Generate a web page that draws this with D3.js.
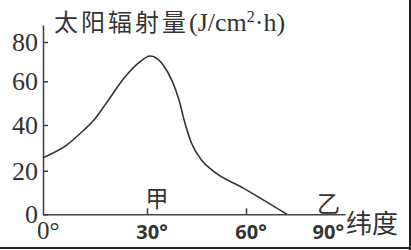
<!DOCTYPE html>
<html>
<head>
<meta charset="utf-8">
<script src="https://cdn.jsdelivr.net/npm/d3@7"></script>
<style>
  body { margin: 0; background: #fff; }
  svg { display: block; }
  .axis path, .axis line { stroke: #444; stroke-width: 1.6px; }
  .axis text { font-family: "Liberation Serif", serif; font-size: 26px; fill: #333; }
</style>
</head>
<body>
<div id="chart"></div>
<script>
// latitude (deg) and solar radiation (J/cm2·h)
const LATITUDE  = [0, 6.8, 11.8, 14.7, 17.9, 23.7, 27.5, 30.9, 34.9, 39.7, 41.5, 43.5, 46.5, 50, 59.2, 72.4];
const RADIATION = [25.7, 31.2, 37.8, 42.3, 49.2, 62.3, 69.2, 72.9, 68.3, 51.4, 40.9, 32, 24.7, 19.9, 12, 0];

const Y_TICKS  = [0, 20, 40, 60, 80];
const X_TICKS  = [30, 60];
const X_LABELS = [{ v: 0, t: '0°' }, { v: 30, t: '30°' }, { v: 60, t: '60°' }, { v: 90, t: '90°' }];
const MARKS    = [{ v: 33, t: '甲' }, { v: 85, t: '乙' }];

const WIDTH  = 411;
const HEIGHT = 250;

const svg = d3.select('#chart').append('svg')
  .attr('width', WIDTH)
  .attr('height', HEIGHT);

// the original drawing is not evenly spaced, so use piecewise scales
const x = d3.scaleLinear().domain([0, 30, 60, 90]).range([43, 147, 246, 345]);
const y = d3.scaleLinear().domain([0, 20, 40, 60, 80, 89]).range([214.3, 170.7, 125, 81.3, 42, 25]);

// y axis
svg.append('g')
  .attr('class', 'axis')
  .attr('transform', 'translate(' + x(0) + ',0)')
  .call(d3.axisLeft(y).tickValues(Y_TICKS).tickSizeInner(-5).tickSizeOuter(0).tickPadding(5));

// x axis (ticks only, labels are drawn below)
svg.append('g')
  .attr('class', 'axis')
  .attr('transform', 'translate(0,' + y(0) + ')')
  .call(d3.axisBottom(x).tickValues(X_TICKS).tickSizeInner(-6).tickSizeOuter(0).tickFormat(''));

// x labels
svg.selectAll('.xlab')
  .data(X_LABELS)
  .enter().append('text')
    .attr('class', 'xlab')
    .attr('x', d => d.v === 0 ? x(0) - 6 : d.v === 90 ? x(90) - 1 : x(d.v) + 5)
    .attr('y', 239)
    .attr('text-anchor', d => d.v === 0 ? 'start' : d.v === 90 ? 'end' : 'middle')
    .style('font-family', d => d.v === 0 ? '"Liberation Serif", serif' : '"Open Sans", sans-serif')
    .style('font-weight', d => d.v === 0 ? 400 : 700)
    .style('font-size', d => d.v === 0 ? '25px' : '20px')
    .style('fill', '#333')
    .text(d => d.t);

// 甲 / 乙
svg.selectAll('.mark')
  .data(MARKS)
  .enter().append('text')
    .attr('class', 'mark')
    .attr('x', d => x(d.v))
    .attr('y', (d, i) => i === 0 ? 207 : 212)
    .attr('text-anchor', 'middle')
    .style('font-family', '"Noto Sans CJK SC", sans-serif')
    .style('font-size', '23px')
    .style('fill', '#333')
    .text(d => d.t);

// axis name
svg.append('text')
  .attr('x', 346)
  .attr('y', 233)
  .style('font-family', '"Noto Sans CJK SC", sans-serif')
  .style('font-size', '26px')
  .style('fill', '#333')
  .text('纬度');

// title
const title = svg.append('text')
  .attr('x', 54)
  .attr('y', 31)
  .style('fill', '#333');
title.append('tspan')
  .style('font-family', '"Noto Sans CJK SC", sans-serif')
  .style('font-size', '24px')
  .style('letter-spacing', '3px')
  .text('太阳辐射量');
title.append('tspan')
  .style('font-family', '"Liberation Serif", serif')
  .style('font-size', '26px')
  .text('(J/cm');
title.append('tspan')
  .attr('dy', -9)
  .style('font-family', '"Liberation Serif", serif')
  .style('font-size', '16px')
  .text('2');
title.append('tspan')
  .attr('dy', 9)
  .style('font-family', '"Liberation Serif", serif')
  .style('font-size', '26px')
  .text('·h)');

// curve
const line = d3.line()
  .x(d => x(d[0]))
  .y(d => y(d[1]))
  .curve(d3.curveMonotoneX);

svg.append('path')
  .datum(LATITUDE.map((v, i) => [v, RADIATION[i]]))
  .attr('d', line)
  .attr('fill', 'none')
  .attr('stroke', '#333')
  .attr('stroke-width', 1.6);

// frame on the right and bottom edges
svg.append('line')
  .attr('x1', 410).attr('x2', 410).attr('y1', 0).attr('y2', HEIGHT)
  .attr('stroke', '#222').attr('stroke-width', 2);
svg.append('line')
  .attr('x1', 0).attr('x2', WIDTH).attr('y1', 248).attr('y2', 248)
  .attr('stroke', '#222').attr('stroke-width', 2);
</script>
</body>
</html>
